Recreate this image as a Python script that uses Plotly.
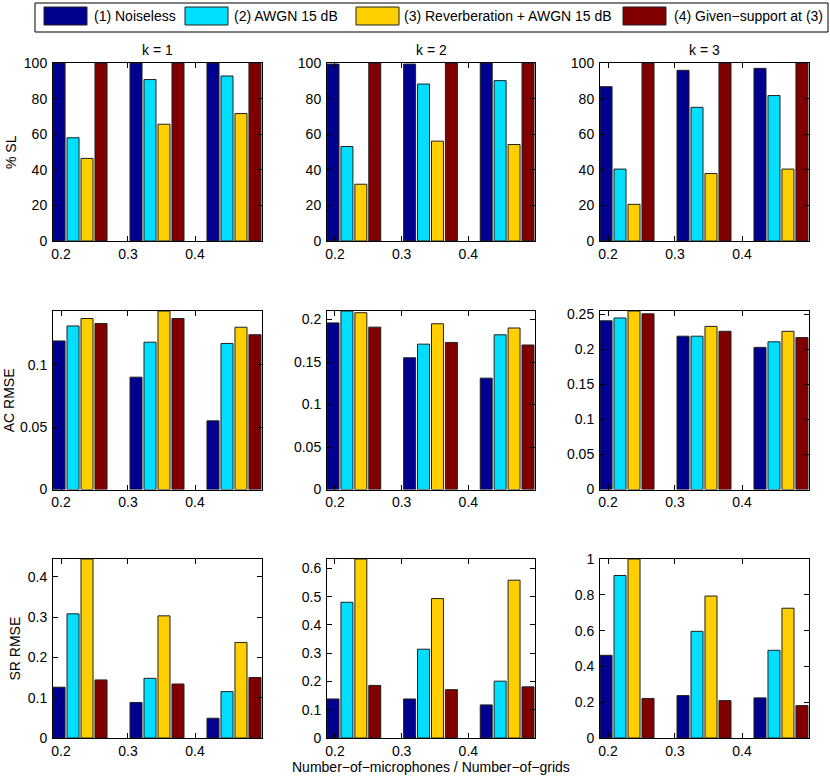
import plotly.graph_objects as go

# ---------------- data ----------------
group_labels = ["0.2", "0.3", "0.4"]
k_titles = ["k = 1", "k = 2", "k = 3"]
method_names = ["(1) Noiseless", "(2) AWGN 15 dB",
                "(3) Reverberation + AWGN 15 dB", "(4) Given\u2212support at (3)"]
method_colors = ["#00008F", "#00DFFF", "#FFCF00", "#800000"]
row_titles = ["% SL", "AC RMSE", "SR RMSE"]

# each list: [k=1 values, k=2 values, k=3 values], values per group 0.2/0.3/0.4
sl_noiseless = [[100, 100, 100], [99.4, 99.4, 100], [86.7, 95.9, 97.0]]
sl_awgn      = [[58.0, 90.7, 92.7], [53.1, 88.2, 90.1], [40.4, 75.1, 81.7]]
sl_reverb    = [[46.4, 65.6, 71.6], [31.9, 56.1, 54.2], [20.6, 37.9, 40.4]]
sl_given     = [[100, 100, 100], [100, 100, 100], [100, 100, 100]]

ac_noiseless = [[0.119, 0.090, 0.055], [0.196, 0.155, 0.131], [0.241, 0.219, 0.203]]
ac_awgn      = [[0.131, 0.118, 0.117], [0.210, 0.171, 0.182], [0.245, 0.219, 0.211]]
ac_reverb    = [[0.137, 0.143, 0.130], [0.208, 0.195, 0.190], [0.255, 0.233, 0.226]]
ac_given     = [[0.133, 0.137, 0.124], [0.191, 0.173, 0.170], [0.251, 0.226, 0.217]]

sr_noiseless = [[0.126, 0.088, 0.049], [0.138, 0.138, 0.117], [0.462, 0.237, 0.224]]
sr_awgn      = [[0.308, 0.148, 0.115], [0.480, 0.314, 0.201], [0.908, 0.596, 0.490]]
sr_reverb    = [[0.444, 0.303, 0.237], [0.633, 0.493, 0.558], [1.000, 0.793, 0.725]]
sr_given     = [[0.144, 0.134, 0.150], [0.186, 0.171, 0.181], [0.221, 0.209, 0.181]]

ac_ticks = [[0, 0.05, 0.1], [0, 0.05, 0.1, 0.15, 0.2], [0, 0.05, 0.1, 0.15, 0.2, 0.25]]
sr_ticks = [[0, 0.1, 0.2, 0.3, 0.4], [0, 0.1, 0.2, 0.3, 0.4, 0.5, 0.6], [0, 0.2, 0.4, 0.6, 0.8, 1]]
sl_ticks = [0, 20, 40, 60, 80, 100]

metrics = [
    [sl_noiseless, sl_awgn, sl_reverb, sl_given],
    [ac_noiseless, ac_awgn, ac_reverb, ac_given],
    [sr_noiseless, sr_awgn, sr_reverb, sr_given],
]

# ---------------- layout helpers ----------------
W, H = 830, 777
FONT = "Liberation Sans, Arial, Helvetica, sans-serif"


def px(x):
    return x / W


def py(y):
    return 1 - y / H


col_px = [(53, 262), (327, 535), (600, 809)]
row_px = [(63, 241), (311, 489.5), (559, 738)]

group_pos = [0, 1, 2]
x_range = [-0.351, 2.364]
x_tickpos = [-0.247, 0.623, 1.494]


def fmt(v):
    return "%g" % v


fig = go.Figure()
layout = {}
for r in range(3):
    for c in range(3):
        idx = r * 3 + c + 1
        xa = "x" if idx == 1 else "x%d" % idx
        ya = "y" if idx == 1 else "y%d" % idx
        series = metrics[r]
        for m in range(4):
            fig.add_trace(go.Bar(
                x=group_pos, y=series[m][c], name=method_names[m],
                marker=dict(color=method_colors[m], line=dict(color="#202020", width=1)),
                xaxis=xa, yaxis=ya, showlegend=False,
            ))
        if r == 0:
            ticks = sl_ticks
            ymax = 100
        else:
            ticks = ac_ticks[c] if r == 1 else sr_ticks[c]
            ymax = max(max(s[c]) for s in series)
        axis_common = dict(showline=True, linecolor="#000000", linewidth=1, mirror="ticks",
                           ticks="inside", ticklen=5, tickcolor="#000000", showgrid=False,
                           zeroline=False, automargin=False,
                           tickfont=dict(family=FONT, size=14, color="#000000"))
        layout["xaxis" if idx == 1 else "xaxis%d" % idx] = dict(
            domain=[px(col_px[c][0]), px(col_px[c][1])], anchor=ya,
            range=x_range, tickvals=x_tickpos, ticktext=group_labels, **axis_common)
        layout["yaxis" if idx == 1 else "yaxis%d" % idx] = dict(
            domain=[py(row_px[r][1]), py(row_px[r][0])], anchor=xa,
            range=[0, ymax], tickvals=ticks, ticktext=[fmt(t) for t in ticks],
            ticklabelstandoff=2, **axis_common)

fig.update_layout(**layout)

annotations = []
txtfont = dict(family=FONT, size=14, color="#000000")
# column titles
for c in range(3):
    annotations.append(dict(text=k_titles[c], x=px((col_px[c][0] + col_px[c][1]) / 2), y=py(50),
                            xref="paper", yref="paper", showarrow=False,
                            xanchor="center", yanchor="middle", font=txtfont))
# row titles
row_title_x = [11, 9, 14]
for r in range(3):
    annotations.append(dict(text=row_titles[r], x=px(row_title_x[r]),
                            y=py((row_px[r][0] + row_px[r][1]) / 2),
                            xref="paper", yref="paper", showarrow=False, textangle=-90,
                            xanchor="center", yanchor="middle", font=txtfont))
# x title
annotations.append(dict(text="Number\u2212of\u2212microphones / Number\u2212of\u2212grids",
                        x=px(431), y=py(767), xref="paper", yref="paper", showarrow=False,
                        xanchor="center", yanchor="middle", font=txtfont))

# custom legend
shapes = [dict(type="rect", xref="paper", yref="paper", x0=px(35), x1=px(828), y0=py(32), y1=py(3),
               line=dict(color="#000000", width=1), fillcolor="#FFFFFF", layer="below")]
sw_x = [44, 185, 356, 623]
tx_x = [92, 232, 402, 672]
for m in range(4):
    shapes.append(dict(type="rect", xref="paper", yref="paper", x0=px(sw_x[m]), x1=px(sw_x[m] + 43),
                       y0=py(25), y1=py(7), line=dict(color="#202020", width=1),
                       fillcolor=method_colors[m]))
    annotations.append(dict(text=method_names[m], x=px(tx_x[m]), y=py(16), xref="paper", yref="paper",
                            xanchor="left", yanchor="middle", showarrow=False, font=txtfont))

fig.update_layout(
    width=W, height=H, margin=dict(l=0, r=0, t=0, b=0, pad=0, autoexpand=False),
    paper_bgcolor="#FFFFFF", plot_bgcolor="#FFFFFF",
    barmode="group", bargap=0.273, bargroupgap=0.14,
    annotations=annotations, shapes=shapes, showlegend=False,
    font=txtfont,
)

fig.write_html("out.html", config={"displayModeBar": False},
               post_script="document.body.style.margin='0';document.body.style.overflow='hidden';")
